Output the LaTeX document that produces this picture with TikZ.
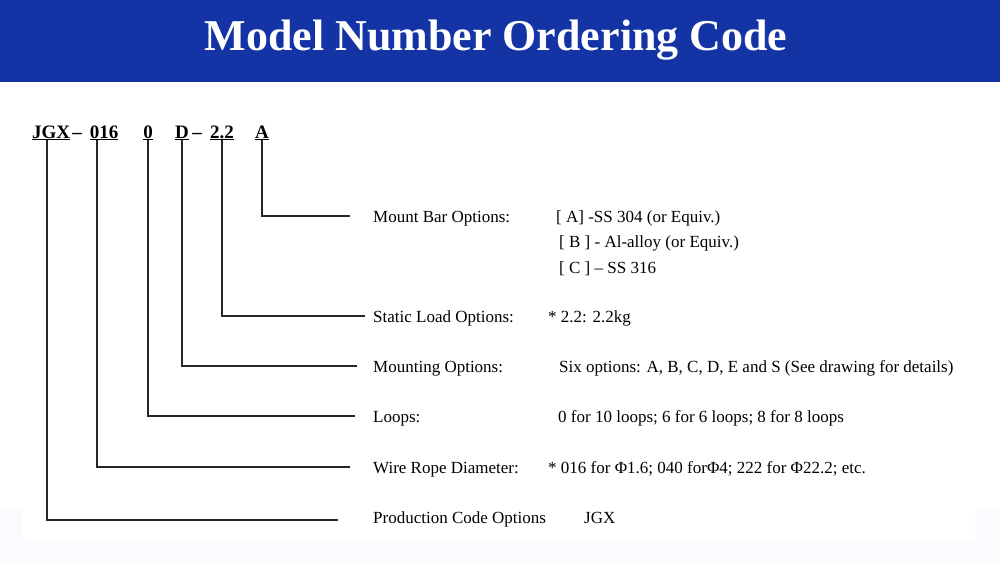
\documentclass[tikz,border=0pt]{standalone}
\usepackage{fontspec}
\setmainfont{Liberation Serif}
\begin{document}
\begin{tikzpicture}[x=1pt,y=-1pt,
  lbl/.style={anchor=base west,inner sep=0pt,font=\fontsize{17}{19}\selectfont},
  code/.style={anchor=base,inner sep=0pt,font=\bfseries\fontsize{19}{22}\selectfont},
  ln/.style={draw=black!85,line width=1.1pt}]
\useasboundingbox (0,0) rectangle (1000,563);
\fill[black!3!blue!2!white] (0,0) rectangle (1000,563);
\fill[white] (0,82) rectangle (1000,510);
\fill[white] (22,510) rectangle (975,540);
\fill[fill={rgb,255:red,20;green,52;blue,166}] (0,0) rectangle (1000,82);
\node[text=white,font=\bfseries\fontsize{44}{48}\selectfont] (title) at (496,40) {Model Number Ordering Code};
% code
\node[code] (c1) at (51,138) {\underline{JGX}};
\node[code] (d1) at (77,138) {–};
\node[code] (c2) at (104,138) {\underline{016}};
\node[code] (c3) at (148,138) {\underline{0}};
\node[code] (c4) at (182,138) {\underline{D}};
\node[code] (d2) at (197,138) {–};
\node[code] (c5) at (222,138) {\underline{2.2}};
\node[code] (c6) at (262,138) {\underline{A}};
% labels
\node[lbl] (l6) at (373,222) {Mount Bar Options:};
\node[lbl] (v6a) at (556,222) {[ A] -SS 304 (or Equiv.)};
\node[lbl] (v6b) at (559,247) {[ B ] - Al-alloy (or Equiv.)};
\node[lbl] (v6c) at (559,273) {[ C ] – SS 316};
\node[lbl] (l5) at (373,322) {Static Load Options:};
\node[lbl] (v5) at (548,322) {* 2.2: 2.2kg};
\node[lbl] (l4) at (373,372) {Mounting Options:};
\node[lbl] (v4) at (559,372) {Six options: A, B, C, D, E and S (See drawing for details)};
\node[lbl] (l3) at (373,422) {Loops:};
\node[lbl] (v3) at (558,422) {0 for 10 loops; 6 for 6 loops; 8 for 8 loops};
\node[lbl] (l2) at (373,473) {Wire Rope Diameter:};
\node[lbl] (v2) at (548,473) {* 016 for Φ1.6; 040 forΦ4; 222 for Φ22.2; etc.};
\node[lbl] (l1) at (373,523) {Production Code Options};
\node[lbl] (v1) at (584,523) {JGX};
% connectors
\coordinate (e6) at (350,216); \coordinate (e5) at (365,316);
\coordinate (e4) at (357,366); \coordinate (e3) at (355,416);
\coordinate (e2) at (350,467); \coordinate (e1) at (338,520);
\draw[ln] (c6.south) |- (e6);
\draw[ln] (c5.south) |- (e5);
\draw[ln] (c4.south) |- (e4);
\draw[ln] (c3.south) |- (e3);
\draw[ln] (c2.south -| 97,0) |- (e2);
\draw[ln] (c1.south -| 47,0) |- (e1);
\end{tikzpicture}
\end{document}
